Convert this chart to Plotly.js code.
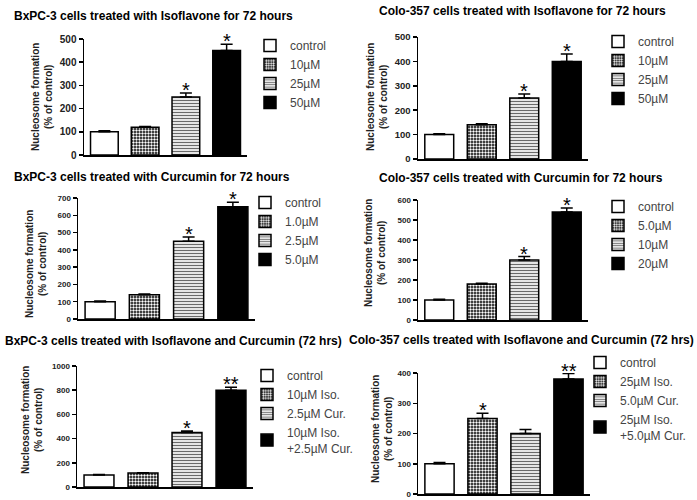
<!DOCTYPE html>
<html>
<head>
<meta charset="utf-8">
<script src="https://cdn.plot.ly/plotly-3.0.1.min.js"></script>
<style>html,body{margin:0;padding:0;background:#fff;}#chart{width:697px;height:500px;}</style>
</head>
<body>
<div id="chart"></div>
<script>
// ---- data ----
const titles = [
  'BxPC-3 cells treated with Isoflavone for 72 hours',
  'Colo-357 cells treated with Isoflavone for 72 hours',
  'BxPC-3 cells treated with Curcumin for 72 hours',
  'Colo-357 cells treated with Curcumin for 72 hours',
  'BxPC-3 cells treated with Isoflavone and Curcumin (72 hrs)',
  'Colo-357 cells treated with Isoflavone and Curcumin (72 hrs)'
];
const yTitle = 'Nucleosome formation<br>(% of control)';

const p1Labels = ['control', '10µM', '25µM', '50µM'];
const p1Values = [100, 120, 250, 450];
const p1Err    = [4, 3, 17, 27];
const p1Stars  = ['', '', '*', '*'];

const p2Labels = ['control', '10µM', '25µM', '50µM'];
const p2Values = [100, 140, 250, 400];
const p2Err    = [3, 4, 16, 30];
const p2Stars  = ['', '', '*', '*'];

const p3Labels = ['control', '1.0µM', '2.5µM', '5.0µM'];
const p3Values = [100, 140, 450, 650];
const p3Err    = [4, 4, 25, 26];
const p3Stars  = ['', '', '*', '*'];

const p4Labels = ['control', '5.0µM', '10µM', '20µM'];
const p4Values = [100, 180, 300, 540];
const p4Err    = [4, 4, 17, 20];
const p4Stars  = ['', '', '*', '*'];

const p5Labels = ['control', '10µM Iso.', '2.5µM Cur.', '10µM Iso.<br>+2.5µM Cur.'];
const p5Values = [100, 115, 450, 800];
const p5Err    = [3, 3, 12, 25];
const p5Stars  = ['', '', '*', '**'];

const p6Labels = ['control', '25µM Iso.', '5.0µM Cur.', '25µM Iso.<br>+5.0µM Cur.'];
const p6Values = [100, 250, 200, 380];
const p6Err    = [4, 17, 13, 18];
const p6Stars  = ['', '*', '', '**'];

const yMax  = [500, 500, 700, 600, 1000, 400];
const yStep = [100, 100, 100, 100, 200, 100];

// ---- layout geometry (pixels) ----
const W = 697, H = 500;
const px = v => v / W;
const py = v => 1 - v / H;
const boxes = [ // [left, right, bottomPx, topPx]
  [84, 247, 155, 39],
  [418, 588, 159, 37],
  [78, 255, 319, 198],
  [418, 588, 320, 200],
  [77, 253, 487, 366],
  [418, 590, 494, 373]
];
const titlePos = [[12, 16, 'left'], [522, 11, 'center'], [12, 177, 'left'], [521, 178, 'center'], [3, 341, 'left'], [521, 340, 'center']];
const yTitlePos = [[42, 97], [377, 97], [36, 264], [375, 253], [32, 420], [382, 429]];
const legendPos = [[250, 31], [598, 27], [245, 188], [598, 192], [247, 361], [580, 348]];
const tickSize = [10, 9.5, 8, 8, 8, 8];

const panels = [
  [p1Labels, p1Values, p1Err, p1Stars],
  [p2Labels, p2Values, p2Err, p2Stars],
  [p3Labels, p3Values, p3Err, p3Stars],
  [p4Labels, p4Values, p4Err, p4Stars],
  [p5Labels, p5Values, p5Err, p5Stars],
  [p6Labels, p6Values, p6Err, p6Stars]
];

const styles = [
  {color: 'white'},
  {color: 'black', pattern: {shape: '.', bgcolor: 'black', fgcolor: 'white', size: 3, solidity: 0.5}},
  {color: 'white', pattern: {shape: '-', bgcolor: 'white', fgcolor: '#6a6a6a', size: 3, solidity: 0.45}},
  {color: 'black'}
];

const FONT = 'Liberation Sans, Arial, Helvetica, sans-serif';
const traces = [];
const annotations = [];
const layout = {
  width: W, height: H,
  margin: {l: 0, r: 0, t: 0, b: 0},
  paper_bgcolor: 'white', plot_bgcolor: 'white',
  barmode: 'overlay',
  bargap: 0.32,
  font: {family: FONT, color: 'black'},
  annotations: annotations
};

panels.forEach((p, i) => {
  const [labels, values, errs, stars] = p;
  const n = i + 1;
  const xa = n === 1 ? 'x' : 'x' + n;
  const ya = n === 1 ? 'y' : 'y' + n;
  const legName = n === 1 ? 'legend' : 'legend' + n;
  labels.forEach((lab, k) => {
    const st = styles[k];
    const marker = {color: st.color, line: {color: 'black', width: 1.5}};
    if (st.pattern) marker.pattern = st.pattern;
    traces.push({
      type: 'bar',
      x: [k], y: [values[k]],
      name: lab,
      xaxis: xa, yaxis: ya,
      legend: legName,
      marker: marker,
      error_y: {type: 'data', symmetric: false, array: [errs[k]], arrayminus: [0], color: 'black', thickness: 1.5, width: 6},
      hoverinfo: 'skip'
    });
    if (stars[k]) {
      annotations.push({
        xref: xa, yref: ya, x: k, y: values[k] + errs[k],
        text: stars[k], showarrow: false, yanchor: 'bottom', yshift: -10,
        font: {family: FONT, size: 20, color: 'black'}
      });
    }
  });
  const b = boxes[i];
  layout['xaxis' + (n === 1 ? '' : n)] = {
    domain: [px(b[0]), px(b[1])], anchor: ya,
    range: [-0.5, 3.5], showticklabels: false, ticks: '',
    showline: true, linecolor: 'black', linewidth: 1.5,
    showgrid: false, zeroline: false, fixedrange: true
  };
  layout['yaxis' + (n === 1 ? '' : n)] = {
    domain: [py(b[2]), py(b[3])], anchor: xa,
    range: [0, yMax[i]], dtick: yStep[i], tick0: 0,
    ticks: 'outside', ticklen: 4, tickwidth: 1.5, tickcolor: 'black',
    showline: true, linecolor: 'black', linewidth: 1.5,
    showgrid: false, zeroline: false, fixedrange: true,
    tickfont: {family: FONT, size: tickSize[i], weight: 'bold', color: '#222'}
  };
  layout[legName] = {
    x: px(legendPos[i][0]), y: py(legendPos[i][1]),
    xanchor: 'left', yanchor: 'top',
    bgcolor: 'rgba(0,0,0,0)', borderwidth: 0,
    traceorder: 'normal', tracegroupgap: 0, itemwidth: 30,
    font: {family: FONT, size: 12, color: '#444'}
  };
  const tp = titlePos[i];
  annotations.push({
    xref: 'paper', yref: 'paper', x: px(tp[0]), y: py(tp[1]),
    xanchor: tp[2], yanchor: 'middle', showarrow: false,
    text: titles[i],
    font: {family: FONT, size: 12, weight: 'bold', color: 'black'}
  });
  const yt = yTitlePos[i];
  annotations.push({
    xref: 'paper', yref: 'paper', x: px(yt[0]), y: py(yt[1]),
    xanchor: 'center', yanchor: 'middle', showarrow: false,
    textangle: -90, text: yTitle,
    font: {family: FONT, size: 10, weight: 'bold', color: '#222'}
  });
});

Plotly.newPlot('chart', traces, layout, {displayModeBar: false, staticPlot: true});
</script>
</body>
</html>
